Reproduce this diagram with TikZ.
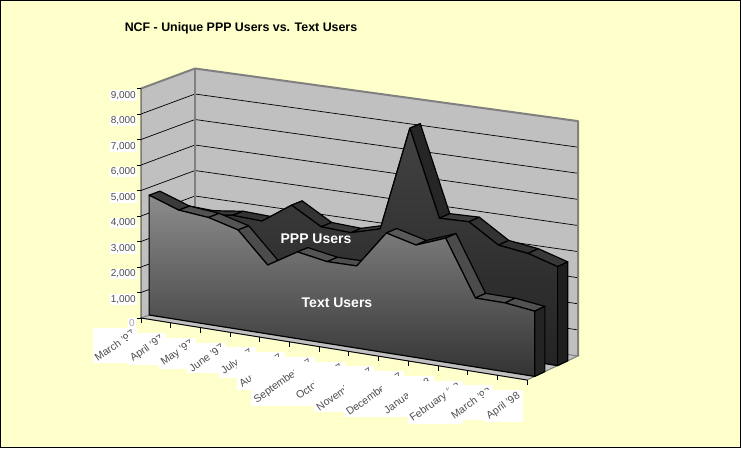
\documentclass[tikz,border=0pt]{standalone}
\usepackage{fontspec}
\setmainfont{Liberation Sans}
\usepackage{graphicx}
\definecolor{bgyellow}{HTML}{FFFFCC}
\definecolor{wallgray}{HTML}{C0C0C0}
\definecolor{edgegray}{HTML}{808080}
% #1 name, #2 category index (0..13), #3 depth (0 front .. 1 back), #4 value in thousands
\newcommand\mkpt[4]{%
  \pgfmathsetmacro\myU{(#2)/13}%
  \pgfmathsetmacro\myXf{141+386*\myU}%
  \pgfmathsetmacro\myXb{195+383*\myU}%
  \pgfmathsetmacro\myYf{318+62*\myU}%
  \pgfmathsetmacro\myYb{298+58*\myU}%
  \pgfmathsetmacro\mySc{25.5+0.6*\myU}%
  \pgfmathsetmacro\myPx{\myXf+(#3)*(\myXb-\myXf)}%
  \pgfmathsetmacro\myPy{\myYf+(#3)*(\myYb-\myYf)-(#4)*\mySc}%
  \coordinate (#1) at (\myPx,\myPy);%
}
\def\Tvals{4.7,4.29,4.18,3.87,2.68,3.37,3.17,3.18,4.63,4.34,4.78,2.65,2.64,2.5}
\def\Pvals{3.8,3.75,3.9,3.85,4.64,3.97,3.91,4.23,8.29,4.98,5.01,4.28,4.13,3.79}
\begin{document}
\begin{tikzpicture}[x=1pt,y=-1pt,
  face/.style={draw=black, line width=1.2pt, line join=round},
  gridline/.style={draw=black, line width=0.7pt},
  walledge/.style={draw=edgegray, line width=2pt, line join=round},
  axisline/.style={draw=black, line width=0.8pt},
  vlab/.style={fill=white, inner sep=1pt, text=black!70, font=\fontsize{10}{11}\selectfont},
  clab/.style={fill=white, inner sep=1pt, text=black!70, anchor=north east, font=\fontsize{10.5}{12}\selectfont},
  serlab/.style={text=white, font=\bfseries\fontsize{14}{16}\selectfont},
  titlestyle/.style={font=\bfseries\fontsize{12.4}{14}\selectfont}]
\useasboundingbox (0,0) rectangle (741,448);
\fill[bgyellow] (0,0) rectangle (741,448);
\draw[black, line width=1pt] (0.5,0.5) rectangle (740.5,447.5);

% frame corners
\mkpt{FBL}{0}{0}{0}\mkpt{FBR}{13}{0}{0}\mkpt{BBL}{0}{1}{0}\mkpt{BBR}{13}{1}{0}
\mkpt{FTL}{0}{0}{9}\mkpt{BTL}{0}{1}{9}\mkpt{BTR}{13}{1}{9}

% walls
\fill[wallgray] (BBL) -- (BTL) -- (BTR) -- (BBR) -- cycle;
\fill[wallgray] (FBL) -- (FTL) -- (BTL) -- (BBL) -- cycle;
\foreach \k in {1,...,8}{
  \mkpt{GA\k}{0}{0}{\k}\mkpt{GB\k}{0}{1}{\k}\mkpt{GC\k}{13}{1}{\k}
  \draw[gridline] (GA\k) -- (GB\k) -- (GC\k);
}
\draw[walledge] (FTL) -- (BTL) -- (BTR) -- (BBR);
\draw[walledge] (BTL) -- (BBL);
% floor
\filldraw[fill=wallgray, draw=edgegray, line width=1pt] (FBL) -- (FBR) -- (BBR) -- (BBL) -- cycle;

% axes
\draw[axisline] (FTL) -- (FBL) -- (FBR);
\foreach \k in {0,...,9}{
  \mkpt{VA\k}{0}{0}{\k}
  \draw[axisline] (VA\k) -- ++(-4,0);
}
\node[vlab, anchor=east, xshift=-5pt, yshift=-5pt, text=black!35] (v0) at (VA0) {0};
\foreach \k in {1,...,9}{
  \node[vlab, anchor=east, xshift=-4pt, yshift=-7pt] (v\k) at (VA\k) {\k,000};
}
\foreach \t in {0,...,13}{
  \mkpt{CT\t}{\t}{0}{0}
  \draw[axisline] (CT\t) -- ++(0,5);
}

% ---------- PPP series (back) ----------
\foreach \v [count=\i from 0] in \Pvals {\mkpt{Pf\i}{\i}{0.6}{\v}\mkpt{Pb\i}{\i}{0.8}{\v}}
\mkpt{PB0}{0}{0.6}{0}\mkpt{PB13}{13}{0.6}{0}\mkpt{PBb13}{13}{0.8}{0}
\foreach \i/\c in {0/80,1/78,2/80,3/78,4/80,5/78,6/76,7/80,8/85,9/77,10/80,11/80,12/78}{
  \pgfmathtruncatemacro\j{\i+1}
  \filldraw[face, fill=black!\c] (Pf\i) -- (Pf\j) -- (Pb\j) -- (Pb\i) -- cycle;
}
\draw[face, top color=black!74, bottom color=black!86] (PB0) \foreach \i in {0,...,13}{ -- (Pf\i)} -- (PB13) -- cycle;
\filldraw[face, fill=black!88] (Pf13) -- (Pb13) -- (PBb13) -- (PB13) -- cycle;

% ---------- Text series (front) ----------
\foreach \v [count=\i from 0] in \Tvals {\mkpt{Tf\i}{\i}{0.15}{\v}\mkpt{Tb\i}{\i}{0.35}{\v}}
\mkpt{TB0}{0}{0.15}{0}\mkpt{TB13}{13}{0.15}{0}\mkpt{TBb13}{13}{0.35}{0}
\foreach \i/\c in {0/77,1/68,2/67,3/70,4/70,5/67,6/69,7/70,8/65,9/80,10/70,11/68,12/68}{
  \pgfmathtruncatemacro\j{\i+1}
  \filldraw[face, fill=black!\c] (Tf\i) -- (Tf\j) -- (Tb\j) -- (Tb\i) -- cycle;
}
\draw[face, top color=black!45, bottom color=black!80] (TB0) \foreach \i in {0,...,13}{ -- (Tf\i)} -- (TB13) -- cycle;
\filldraw[face, fill=black!86] (Tf13) -- (Tb13) -- (TBb13) -- (TB13) -- cycle;

% series labels
\node[serlab] (ppplab) at (316,239) {PPP Users};
\node[serlab] (textlab) at (337,303) {Text Users};

% category labels
\foreach \lab [count=\t from 0] in {March '97,April '97,May '97,June '97,July '97,August '97,September '97,October '97,November '97,December '97,January '98,February '98,March '98,April '98}{
  \node[clab, xshift=-4pt, yshift=-10pt] (c\t) at (CT\t) {\rotatebox{35}{\lab}};
}

% title
\node[titlestyle] (title) at (241,28) {NCF - Unique PPP Users vs. Text Users};
\end{tikzpicture}
\end{document}
